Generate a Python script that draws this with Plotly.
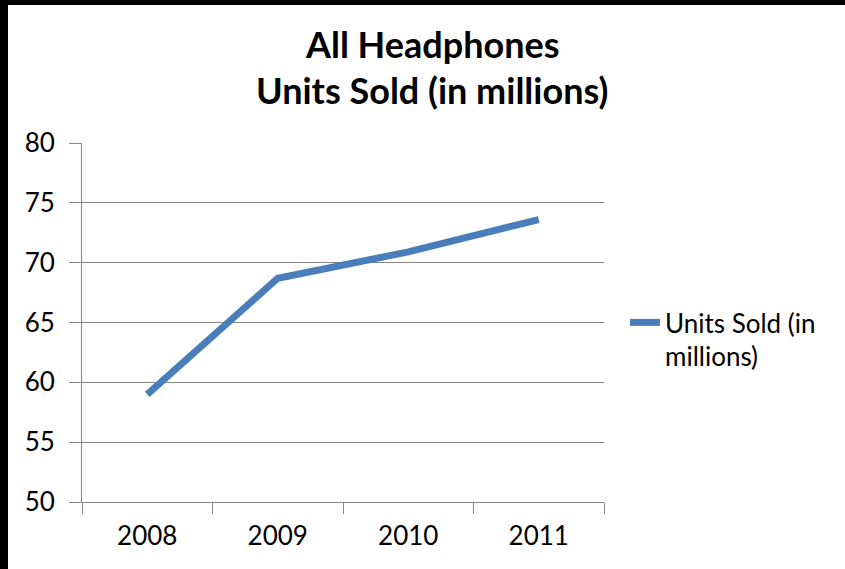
import plotly.graph_objects as go

years = ["2008", "2009", "2010", "2011"]
units_sold = [59.0, 68.7, 70.9, 73.6]
series_name = "Units Sold (in<br>millions)"
title_lines = ["All Headphones", "Units Sold (in millions)"]

W, H = 845, 569
L, R, T, B = 82, 604, 143, 502  # plot area in px


def px_x(p):
    return (p - L) / (R - L)


def px_y(p):
    return (B - p) / (B - T)


FONT = "Lato"
GRID = "#868686"
FS = 26

fig = go.Figure()
fig.add_trace(go.Scatter(
    x=years, y=units_sold, mode="lines", name=series_name,
    line=dict(color="#4A7EBB", width=7),
))

fig.update_layout(
    width=W, height=H,
    margin=dict(l=L, r=W - R, t=T, b=H - B),
    paper_bgcolor="white", plot_bgcolor="white",
    font=dict(family=FONT, size=FS, color="black"),
    showlegend=True,
    legend=dict(x=px_x(625), y=px_y(299), xanchor="left", yanchor="top",
                valign="top", font=dict(family=FONT, size=FS, color="black"),
                bgcolor="rgba(0,0,0,0)", tracegroupgap=0),
    xaxis=dict(type="category", range=[-0.5, 3.5], tickson="boundaries",
               ticks="outside", ticklen=11, tickcolor=GRID, tickwidth=1,
               showline=True, linecolor=GRID, linewidth=1, showgrid=False,
               ticklabelstandoff=11,
               tickfont=dict(family=FONT, size=FS, color="black")),
    yaxis=dict(range=[50, 80], dtick=5, tick0=50, ticks="outside", ticklen=12,
               tickcolor=GRID, tickwidth=1, showline=True, linecolor=GRID,
               linewidth=1, showgrid=True, gridcolor=GRID, gridwidth=1,
               zeroline=False, ticklabelstandoff=9,
               tickfont=dict(family=FONT, size=FS, color="black")),
)

for txt, cy in zip(title_lines, [44, 90]):
    fig.add_annotation(text="<b>%s</b>" % txt, x=px_x(432), y=px_y(cy),
                       xref="paper", yref="paper", xanchor="center",
                       yanchor="middle", showarrow=False,
                       font=dict(family=FONT, size=36, color="black"))

# black frame strips at left and top edges
fig.add_shape(type="rect", xref="paper", yref="paper",
              x0=px_x(0), x1=px_x(8), y0=px_y(0), y1=px_y(H),
              fillcolor="black", line=dict(width=0), layer="above")
fig.add_shape(type="rect", xref="paper", yref="paper",
              x0=px_x(0), x1=px_x(W), y0=px_y(0), y1=px_y(5),
              fillcolor="black", line=dict(width=0), layer="above")

fig.write_html("out.html")
